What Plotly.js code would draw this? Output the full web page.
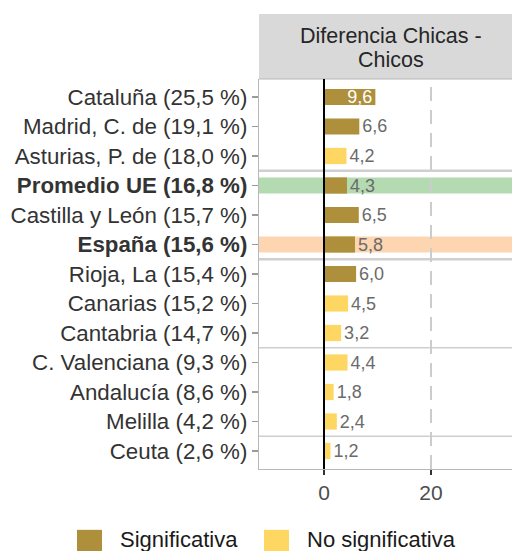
<!DOCTYPE html>
<html>
<head>
<meta charset="utf-8">
<script src="https://cdn.plot.ly/plotly-3.0.1.min.js"></script>
<style>
  html, body { margin: 0; padding: 0; background: #ffffff; overflow: hidden; }
  #chart { width: 512px; height: 551px; }
</style>
</head>
<body>
<div id="chart"></div>
<script>
// ---- data ----
const categories = [
  'Cataluña (25,5 %)', 'Madrid, C. de (19,1 %)', 'Asturias, P. de (18,0 %)',
  'Promedio UE (16,8 %)', 'Castilla y León (15,7 %)', 'España (15,6 %)',
  'Rioja, La (15,4 %)', 'Canarias (15,2 %)', 'Cantabria (14,7 %)',
  'C. Valenciana (9,3 %)', 'Andalucía (8,6 %)', 'Melilla (4,2 %)', 'Ceuta (2,6 %)'
];
const values = [9.6, 6.6, 4.2, 4.3, 6.5, 5.8, 6.0, 4.5, 3.2, 4.4, 1.8, 2.4, 1.2];
const significance = [
  'Significativa', 'Significativa', 'No significativa',
  'Significativa', 'Significativa', 'Significativa',
  'Significativa', 'No significativa', 'No significativa',
  'No significativa', 'No significativa', 'No significativa', 'No significativa'
];
const legendLabels = ['Significativa', 'No significativa'];
const boldRows = ['Promedio UE (16,8 %)', 'España (15,6 %)'];
const euRow = 'Promedio UE (16,8 %)';
const spainRow = 'España (15,6 %)';
const groupBreaks = [2.5, 5.5, 8.5, 11.5];
const stripTitle = ['Diferencia Chicas -', 'Chicos'];
const xTicks = [0, 20];
const xTickText = ['0', '20'];

// ---- styles ----
const colorMap = { 'Significativa': '#ae8f3b', 'No significativa': '#fed762' };
const FONT = 'Liberation Sans, Arial, sans-serif';
const insideThreshold = 9;

const barColors = significance.map(s => colorMap[s]);
const textPos = values.map(v => v >= insideThreshold ? 'inside' : 'outside');
const textCol = values.map(v => v >= insideThreshold ? '#ffffff' : '#6b6b6b');
const tickText = categories.map(c => boldRows.includes(c) ? '<b>' + c + '</b>' : c);

const trace = {
  type: 'bar',
  orientation: 'h',
  y: categories,
  x: values,
  width: 0.55,
  marker: { color: barColors, line: { width: 0 } },
  texttemplate: '%{x:.1f}',
  textposition: textPos,
  insidetextanchor: 'end',
  constraintext: 'none',
  cliponaxis: false,
  textfont: { family: FONT, size: 18, color: textCol },
  hoverinfo: 'skip',
  showlegend: false
};

const shapes = [];
// highlight bands
const euIdx = categories.indexOf(euRow);
const esIdx = categories.indexOf(spainRow);
shapes.push({ type: 'rect', xref: 'paper', yref: 'y', x0: 0, x1: 1, y0: euIdx - 0.27, y1: euIdx + 0.27,
  fillcolor: '#b3dab1', line: { width: 0 }, layer: 'below' });
shapes.push({ type: 'rect', xref: 'paper', yref: 'y', x0: 0, x1: 1, y0: esIdx - 0.27, y1: esIdx + 0.27,
  fillcolor: '#fdd5b1', line: { width: 0 }, layer: 'below' });
// group separators
groupBreaks.forEach((b, i) => {
  shapes.push({ type: 'line', xref: 'paper', yref: 'y', x0: 0, x1: 1, y0: b, y1: b,
    line: { color: '#cfcfcf', width: i < 2 ? 2.5 : 1.5 }, layer: 'below' });
});
// dashed reference line at 20
shapes.push({ type: 'line', xref: 'x', yref: 'paper', x0: 20, x1: 20, y0: 0, y1: 1,
  line: { color: '#cccccc', width: 2, dash: '14px,9px' }, layer: 'below' });
// strip background
shapes.push({ type: 'rect', xref: 'paper', yref: 'paper', x0: 0, x1: 1.01, y0: 1.0, y1: 1.1667,
  fillcolor: '#d9d9d9', line: { width: 0 } });
// panel top border
shapes.push({ type: 'line', xref: 'paper', yref: 'paper', x0: 0, x1: 1, y0: 1, y1: 1,
  line: { color: '#b8b8b8', width: 1.2 } });
// zero line
shapes.push({ type: 'line', xref: 'x', yref: 'paper', x0: 0, x1: 0, y0: 0, y1: 1,
  line: { color: '#000000', width: 2 } });

// legend swatches (manual)
const legendSwatchX = [[-0.7194, -0.6206], [0.0198, 0.1186]];
const legendTextX = [-0.5573, 0.1818];
legendLabels.forEach((lab, i) => {
  shapes.push({ type: 'rect', xref: 'paper', yref: 'paper',
    x0: legendSwatchX[i][0], x1: legendSwatchX[i][1], y0: -0.2180, y1: -0.1560,
    fillcolor: colorMap[lab], line: { width: 0 } });
});

const annotations = [
  { text: stripTitle[0], xref: 'paper', yref: 'paper', x: 0.5217, y: 1.110, showarrow: false,
    xanchor: 'center', yanchor: 'middle', font: { family: FONT, size: 21.5, color: '#262626' } },
  { text: stripTitle[1], xref: 'paper', yref: 'paper', x: 0.5217, y: 1.048, showarrow: false,
    xanchor: 'center', yanchor: 'middle', font: { family: FONT, size: 21.5, color: '#262626' } }
];
legendLabels.forEach((lab, i) => {
  annotations.push({ text: lab, xref: 'paper', yref: 'paper', x: legendTextX[i], y: -0.181,
    showarrow: false, xanchor: 'left', yanchor: 'middle',
    font: { family: FONT, size: 22, color: '#1a1a1a' } });
});

const layout = {
  width: 512, height: 551,
  margin: { l: 259, r: 0, t: 79, b: 82, pad: 0 },
  paper_bgcolor: '#ffffff', plot_bgcolor: '#ffffff',
  separators: ', ',
  showlegend: false,
  font: { family: FONT, color: '#4d4d4d' },
  xaxis: {
    range: [-12.15, 35.14], tickmode: 'array', tickvals: xTicks, ticktext: xTickText,
    showgrid: false, zeroline: false, showline: true, linecolor: '#b8b8b8', linewidth: 1.2,
    ticks: 'outside', ticklen: 5, tickwidth: 1.2, tickcolor: '#333333',
    tickfont: { family: FONT, size: 21, color: '#4d4d4d' }, fixedrange: true
  },
  yaxis: {
    type: 'category', range: [12.61, -0.61], tickmode: 'array', tickvals: categories, ticktext: tickText,
    showgrid: false, zeroline: false, showline: true, linecolor: '#b8b8b8', linewidth: 1.2,
    ticks: 'outside', ticklen: 6, tickwidth: 1.2, tickcolor: '#9a9a9a',
    tickfont: { family: FONT, size: 22.3, color: '#333333' }, fixedrange: true
  },
  shapes: shapes,
  annotations: annotations
};

Plotly.newPlot('chart', [trace], layout, { displayModeBar: false, staticPlot: true });
</script>
</body>
</html>
